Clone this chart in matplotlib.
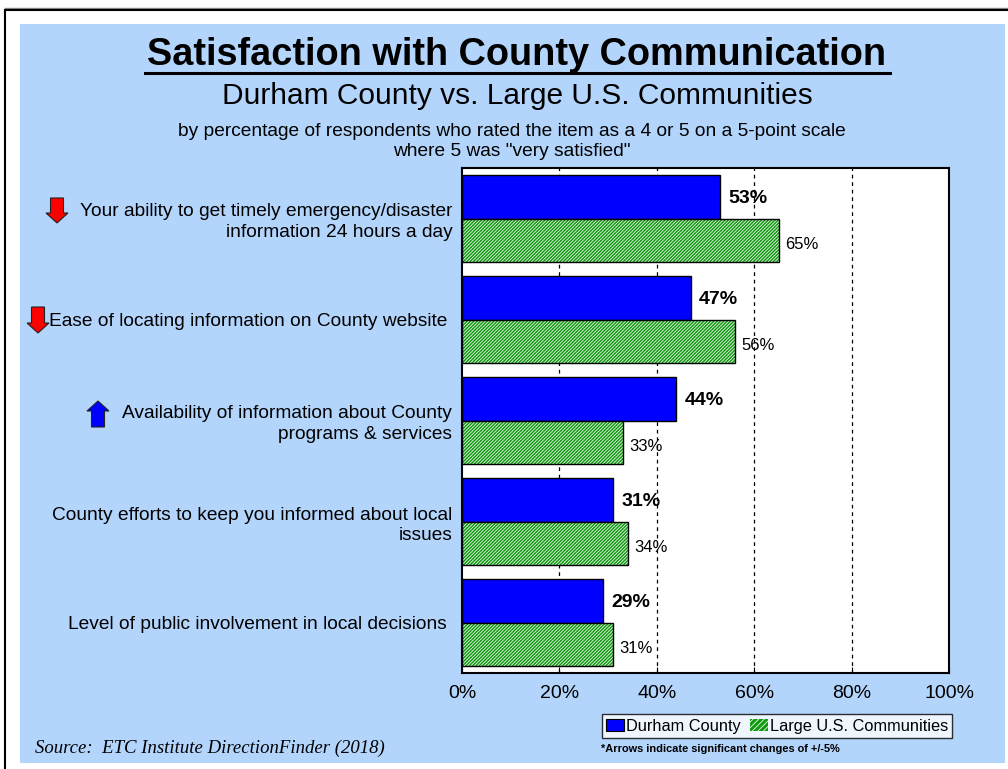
import matplotlib
matplotlib.use("Agg")
import matplotlib.pyplot as plt
from matplotlib.patches import Rectangle, Polygon, Patch
from matplotlib.lines import Line2D
import numpy as np

plt.rcParams['font.family'] = ['Liberation Sans', 'DejaVu Sans']
plt.rcParams['hatch.linewidth'] = 0.55

categories = [
    "Your ability to get timely emergency/disaster\ninformation 24 hours a day",
    "Ease of locating information on County website ",
    "Availability of information about County\nprograms & services",
    "County efforts to keep you informed about local\nissues",
    "Level of public involvement in local decisions ",
]
durham = [53, 47, 44, 31, 29]
large_us = [65, 56, 33, 34, 31]
xticks = [0, 20, 40, 60, 80, 100]
xtick_labels = ["0%", "20%", "40%", "60%", "80%", "100%"]
series_names = ["Durham County", "Large U.S. Communities"]

W, H = 1008, 769
fig = plt.figure(figsize=(W / 100, H / 100), dpi=100)
fig.patch.set_facecolor('white')

def fx(x):
    return x / W

def fy(y):
    return 1 - y / H

# background panel and border lines
fig.add_artist(Rectangle((fx(20), fy(763)), fx(1005) - fx(20), fy(24) - fy(763),
                         transform=fig.transFigure, facecolor='#B3D5FC', edgecolor='none', zorder=0))
fig.add_artist(Line2D([fx(5), fx(1008)], [fy(8), fy(8)], transform=fig.transFigure, color='#888888', lw=1))
fig.add_artist(Line2D([fx(5), fx(1008)], [fy(9.5), fy(9.5)], transform=fig.transFigure, color='black', lw=1.5))
fig.add_artist(Line2D([fx(5), fx(5)], [fy(9.5), fy(769)], transform=fig.transFigure, color='black', lw=1.5))

ax = fig.add_axes([fx(462), fy(673), fx(949) - fx(462), fy(168) - fy(673)])
ax.set_facecolor('white')

n = len(categories)
y = np.arange(n)
bh = 0.43
green = '#129A12'
hatch = '//////////'

ax.barh(y - bh / 2, durham, height=bh, color='#0000FF', edgecolor='black', linewidth=1, zorder=3)
ax.barh(y + bh / 2, large_us, height=bh, color=green, edgecolor='white', hatch=hatch, linewidth=0, zorder=3)
ax.barh(y + bh / 2, large_us, height=bh, color='none', edgecolor='black', linewidth=1, zorder=4)

for i in range(n):
    ax.text(durham[i] + 1.7, y[i] - bh / 2 + 0.02, f"{durham[i]}%", va='center', ha='left',
            fontsize=14, fontweight='bold', color='black', zorder=5)
    ax.text(large_us[i] + 1.3, y[i] + bh / 2 + 0.04, f"{large_us[i]}%", va='center', ha='left',
            fontsize=12, color='black', zorder=5)

ax.set_xlim(0, 100)
ax.set_ylim(n - 0.5, -0.5)
ax.set_xticks(xticks)
ax.set_xticklabels(xtick_labels, fontsize=14)
ax.set_yticks(y)
ax.set_yticklabels(categories, fontsize=13.8, linespacing=1.25)
ax.tick_params(axis='y', length=0, pad=7)
ax.tick_params(axis='x', direction='in', length=4, pad=9, top=False)
for xv in xticks[1:-1]:
    ax.axvline(xv, color='black', linestyle=(0, (3, 3)), linewidth=0.9, zorder=1)
for s in ax.spines.values():
    s.set_color('black')
    s.set_linewidth(1.5)
    s.set_zorder(6)

# arrows (significance markers)
def arrow(xc, ytop, ybot, direction, color):
    sw, hw = 6.5, 11
    hl = 10
    if direction == "down":
        pts = [(xc - sw, ytop), (xc + sw, ytop), (xc + sw, ybot - hl), (xc + hw, ybot - hl),
               (xc, ybot), (xc - hw, ybot - hl), (xc - sw, ybot - hl)]
    else:
        pts = [(xc - sw, ybot), (xc + sw, ybot), (xc + sw, ytop + hl), (xc + hw, ytop + hl),
               (xc, ytop), (xc - hw, ytop + hl), (xc - sw, ytop + hl)]
    pts = [(fx(a), fy(b)) for a, b in pts]
    fig.add_artist(Polygon(pts, closed=True, transform=fig.transFigure, facecolor=color,
                           edgecolor='#222222', linewidth=0.8, zorder=10))

arrow(57, 198, 223, "down", '#FF0000')
arrow(38, 307, 333, "down", '#FF0000')
arrow(98, 401, 427, "up", '#0000FF')

# titles
fig.text(fx(517), fy(55), "Satisfaction with County Communication", ha='center', va='center',
         fontsize=27.3, fontweight='bold')
fig.add_artist(Line2D([fx(145), fx(890)], [fy(72.5), fy(72.5)], transform=fig.transFigure, color='black', lw=2.2))
fig.text(fx(517), fy(96), "Durham County vs. Large U.S. Communities", ha='center', va='center', fontsize=21.5)
fig.text(fx(512), fy(131), "by percentage of respondents who rated the item as a 4 or 5 on a 5-point scale",
         ha='center', va='center', fontsize=13.8)
fig.text(fx(512), fy(151), 'where 5 was "very satisfied"', ha='center', va='center', fontsize=13.8)

# legend
handles = [Patch(facecolor='#0000FF', edgecolor='black', linewidth=0.8),
           Patch(facecolor=green, edgecolor='white', hatch='//////', linewidth=0)]
leg = fig.legend(handles, series_names, loc='center left', bbox_to_anchor=(fx(602), fy(726)),
                 ncol=2, fontsize=11.8, frameon=True, fancybox=False, edgecolor='black',
                 handlelength=1.1, handleheight=0.8, handletextpad=0.1, columnspacing=0.6,
                 borderpad=0.25, borderaxespad=0)
leg.get_frame().set_linewidth(1.0)

fig.text(fx(601), fy(749), "*Arrows indicate significant changes of +/-5%", ha='left', va='center',
         fontsize=7.9, fontweight='bold')
fig.text(fx(35), fy(748), "Source:  ETC Institute DirectionFinder (2018)", ha='left', va='center',
         fontsize=13.5, style='italic', family=['Liberation Serif', 'DejaVu Serif'])

fig.savefig("out.png", dpi=100)
